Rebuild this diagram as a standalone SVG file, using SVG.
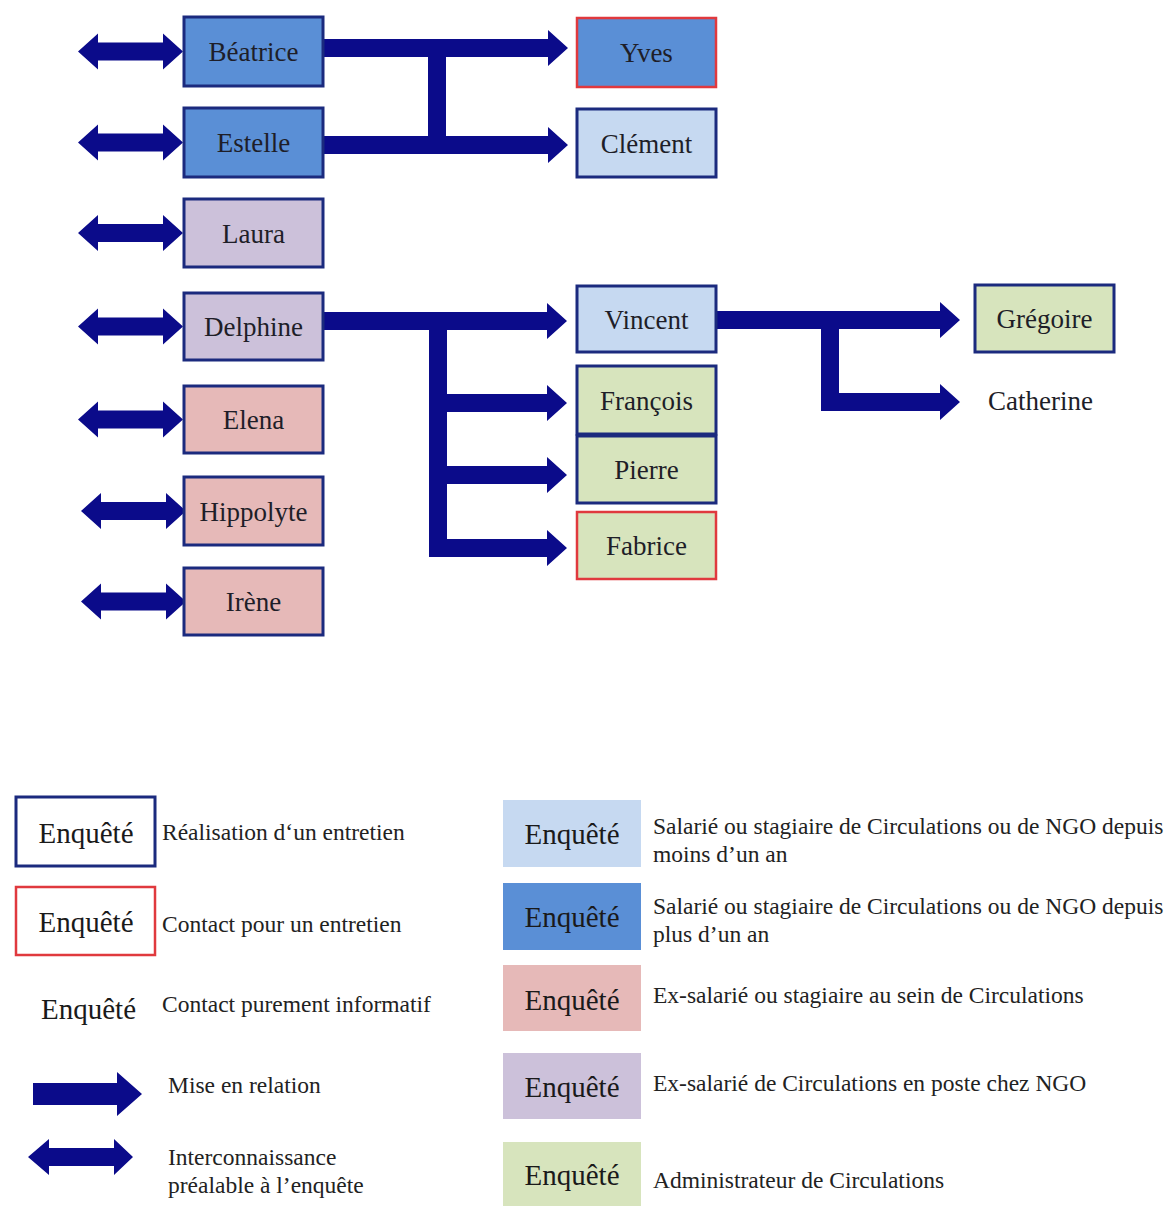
<svg xmlns="http://www.w3.org/2000/svg" width="1167" height="1206" viewBox="0 0 1167 1206">
<style>
.box{stroke:#1b2a7e;stroke-width:3}
.red{stroke:#e0393e;stroke-width:2.5}
.lbl{font-family:"Liberation Serif","Times New Roman",serif;font-size:27px;fill:#1e1e28;text-anchor:middle}
.enq{font-family:"Liberation Serif","Times New Roman",serif;font-size:29px;fill:#1a1a1a;text-anchor:middle}
.desc{font-family:"Liberation Serif","Times New Roman",serif;font-size:23.5px;fill:#222}
.arr{fill:#0b0b8a}
.b1{fill:#5a8fd6}.b2{fill:#c6d9f1}.pu{fill:#ccc1da}.pk{fill:#e6b9b8}.gr{fill:#d7e4bd}
</style>
<defs>
<path id="dbl" d="M78,0 L98,-18 L98,-9 L163,-9 L163,-18 L183,0 L163,18 L163,9 L98,9 L98,18 Z"/>
</defs>
<rect width="1167" height="1206" fill="#ffffff"/>

<g id="connectors" class="arr">
  <use href="#dbl" y="51.5"/>
  <use href="#dbl" y="142.5"/>
  <use href="#dbl" y="233"/>
  <use href="#dbl" y="326.5"/>
  <use href="#dbl" y="419.5"/>
  <use href="#dbl" x="3" y="511"/>
  <use href="#dbl" x="3" y="601.5"/>
  <path d="M323,39 H548 V30 L568,48 L548,66 V57 H446 V136 H548 V127 L568,145 L548,163 V154 H323 V136 H428 V57 H323 Z"/>
  <path d="M323,312 H547 V303 L567,321 L547,339 V330 H447 V394 H547 V385 L567,403 L547,421 V412 H447 V466 H547 V457 L567,475 L547,493 V484 H447 V539 H547 V530 L567,548 L547,566 V557 H429 V330 H323 Z"/>
  <path d="M716,311 H940 V302 L960,320 L940,338 V329 H839 V393 H940 V384 L960,402 L940,420 V411 H821 V329 H716 Z"/>
</g>

<g id="node-beatrice"><rect class="box b1" x="184" y="17" width="139" height="69"/><text class="lbl" x="253.5" y="61">Béatrice</text></g>
<g id="node-estelle"><rect class="box b1" x="184" y="108" width="139" height="69"/><text class="lbl" x="253.5" y="152">Estelle</text></g>
<g id="node-laura"><rect class="box pu" x="184" y="199" width="139" height="68"/><text class="lbl" x="253.5" y="242.5">Laura</text></g>
<g id="node-delphine"><rect class="box pu" x="184" y="293" width="139" height="67"/><text class="lbl" x="253.5" y="336">Delphine</text></g>
<g id="node-elena"><rect class="box pk" x="184" y="386" width="139" height="67"/><text class="lbl" x="253.5" y="429">Elena</text></g>
<g id="node-hippolyte"><rect class="box pk" x="184" y="477" width="139" height="68"/><text class="lbl" x="253.5" y="520.5">Hippolyte</text></g>
<g id="node-irene"><rect class="box pk" x="184" y="568" width="139" height="67"/><text class="lbl" x="253.5" y="611">Irène</text></g>

<g id="node-yves"><rect class="red b1" x="577" y="18" width="139" height="69"/><text class="lbl" x="646.5" y="62">Yves</text></g>
<g id="node-clement"><rect class="box b2" x="577" y="109" width="139" height="68"/><text class="lbl" x="646.5" y="152.5">Clément</text></g>
<g id="node-vincent"><rect class="box b2" x="577" y="286" width="139" height="66"/><text class="lbl" x="646.5" y="328.5">Vincent</text></g>
<g id="node-francois"><rect class="box gr" x="577" y="366" width="139" height="68"/><text class="lbl" x="646.5" y="409.5">François</text></g>
<g id="node-pierre"><rect class="box gr" x="577" y="436" width="139" height="67"/><text class="lbl" x="646.5" y="479">Pierre</text></g>
<g id="node-fabrice"><rect class="red gr" x="577" y="512" width="139" height="67"/><text class="lbl" x="646.5" y="555">Fabrice</text></g>
<g id="node-gregoire"><rect class="box gr" x="975" y="285" width="139" height="67"/><text class="lbl" x="1044.5" y="328">Grégoire</text></g>
<g id="node-catherine"><text class="lbl" x="1040.5" y="410">Catherine</text></g>

<g id="legend">
  <rect class="box" fill="#fff" x="16" y="797" width="139" height="69"/>
  <text class="enq" x="86" y="843">Enquêté</text>
  <text class="desc" x="162" y="840">Réalisation d‘un entretien</text>
  <rect class="red" fill="#fff" x="16" y="887" width="139" height="68"/>
  <text class="enq" x="86" y="932">Enquêté</text>
  <text class="desc" x="162" y="932">Contact pour un entretien</text>
  <text class="enq" x="88.5" y="1019">Enquêté</text>
  <text class="desc" x="162" y="1012">Contact purement informatif</text>
  <path class="arr" d="M33,1083 H117 V1072 L142,1094 L117,1116 V1105 H33 Z"/>
  <text class="desc" x="168" y="1093">Mise en relation</text>
  <path class="arr" d="M28,1157 L49,1139 L49,1148 L114,1148 L114,1139 L133,1157 L114,1175 L114,1166 L49,1166 L49,1175 Z"/>
  <text class="desc" x="168" y="1165">Interconnaissance</text>
  <text class="desc" x="168" y="1193">préalable à l’enquête</text>

  <rect class="b2" x="503" y="800" width="138" height="67"/>
  <text class="enq" x="572" y="844">Enquêté</text>
  <text class="desc" x="653" y="834">Salarié ou stagiaire de Circulations ou de NGO depuis</text>
  <text class="desc" x="653" y="862">moins d’un an</text>
  <rect class="b1" x="503" y="883" width="138" height="67"/>
  <text class="enq" x="572" y="927">Enquêté</text>
  <text class="desc" x="653" y="914">Salarié ou stagiaire de Circulations ou de NGO depuis</text>
  <text class="desc" x="653" y="942">plus d’un an</text>
  <rect class="pk" x="503" y="965" width="138" height="66"/>
  <text class="enq" x="572" y="1010">Enquêté</text>
  <text class="desc" x="653" y="1003">Ex-salarié ou stagiaire au sein de Circulations</text>
  <rect class="pu" x="503" y="1053" width="138" height="66"/>
  <text class="enq" x="572" y="1097">Enquêté</text>
  <text class="desc" x="653" y="1091">Ex-salarié de Circulations en poste chez NGO</text>
  <rect class="gr" x="503" y="1142" width="138" height="64"/>
  <text class="enq" x="572" y="1185">Enquêté</text>
  <text class="desc" x="653" y="1188">Administrateur de Circulations</text>
</g>
</svg>
